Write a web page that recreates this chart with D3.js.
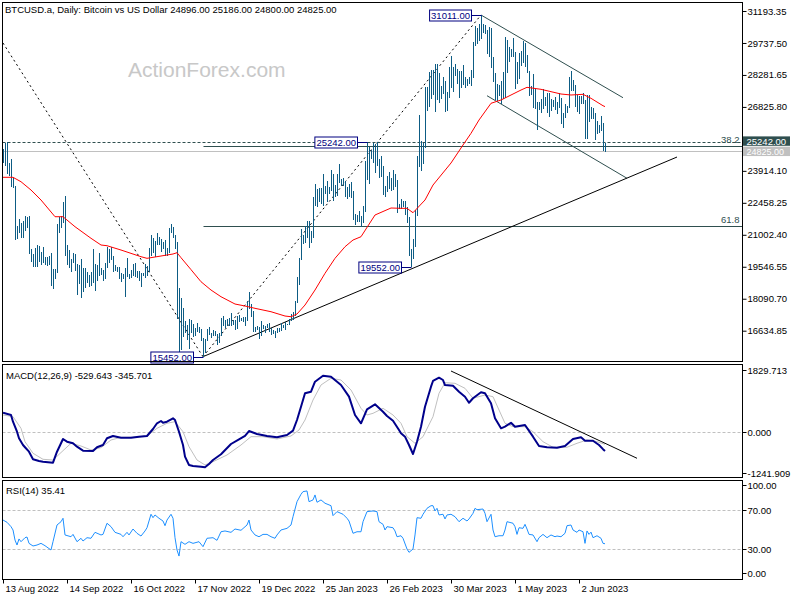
<!DOCTYPE html>
<html><head><meta charset="utf-8">
<script src="https://cdn.jsdelivr.net/npm/d3@7"></script>
<style>
body{margin:0;background:#fff}
svg{display:block}
text{font-family:"Liberation Sans",Arial,sans-serif}
</style>
</head><body><svg id="c" width="800" height="600"></svg>
<script>
// ---------- DATA ----------
const title = "BTCUSD.a, Daily:  Bitcoin vs US Dollar  24896.00 25186.00 24800.00 24825.00";
const macdTitle = "MACD(12,26,9) -529.643 -345.701";
const rsiTitle = "RSI(14) 35.41";

// daily highs / lows, bar 0 = 13 Aug 2022 ... bar 301 = 15 Jun 2023
const hi = [
24900,25200,25210,24250,24450,23600,23220,21380,21700,21530,
21650,21880,21800,21860,20340,20150,20400,20560,20480,20200,
20430,19980,20000,20040,20170,19450,19450,21500,21800,21850,
22480,22770,20520,20330,19890,20180,20120,19690,19620,19920,
19490,19480,19310,19180,19300,20360,19690,19630,20160,19470,
19390,19700,20460,20360,20430,20050,19610,19550,19520,19260,
19220,19500,19950,19220,19400,19670,19700,19350,19340,19250,
19260,19680,19600,20390,21000,20850,20720,21080,20920,20810,
20680,20770,20380,21300,21480,21370,20990,20660,18580,18130,
17650,17080,16900,17170,17110,16950,16740,16980,16800,16730,
16290,16250,16700,16800,16530,16680,16600,16470,16540,17200,
17310,17100,17150,17200,17420,17100,17140,17300,17360,17230,
17270,17240,18000,18390,17850,17530,16800,16860,16800,17060,
16910,16860,16950,16970,16780,16660,16640,16770,16780,17000,
16880,17020,16960,17170,17400,17490,17990,19100,19960,21260,
21000,21420,21640,21650,21170,22740,23300,23080,23150,23150,
23780,23230,23470,23160,23940,23790,23280,23780,24230,23560,
23570,23430,23160,23330,23400,22990,21950,21900,22090,21880,
22320,24380,25242,25020,24860,25180,25120,25240,24470,24600,
24130,23210,23680,23880,23600,23950,23780,23480,22420,22610,
22550,22530,22270,21800,20370,20800,22150,24600,26450,25260,
25200,27750,27720,28400,28500,28500,28800,28780,28370,27800,
28180,28020,27500,28640,29160,28650,28800,28530,28480,28440,
28740,28190,28100,28170,28500,29770,30500,30420,30600,31011,
30600,30550,30330,30470,30420,29100,28370,27880,27820,28000,
28400,30000,29880,29570,29450,29960,29330,28870,29270,29360,
29840,29720,29190,28470,27800,28330,27640,27050,27040,27170,
27650,27260,27480,27470,27170,27150,27270,27060,27480,27230,
26540,26940,26870,28200,28450,28050,27830,27350,27300,27330,
27440,27130,27350,27380,26800,26790,26530,26200,26000,26400,
26080,25186];
const lo = [
24300,24150,23800,23700,23200,23150,20800,20850,21100,20900,
20900,21200,21340,20150,19800,19550,19550,19550,19800,19650,
19760,19660,19620,19640,18700,18550,19000,19300,21100,21350,
21580,20070,19650,19500,19350,19750,19370,18270,18780,18140,
18400,18600,18850,18640,18680,18820,18480,18900,19170,19180,
18940,19000,19500,19760,19860,19330,19360,19330,19030,18870,
19000,18190,19100,18990,19060,19160,19100,19080,18900,18660,
19130,19070,19160,19310,20060,20210,20020,20580,20540,20230,
20360,20060,20060,20180,21100,20880,20400,17170,15590,15770,
16380,16550,16240,15820,16560,16380,16430,16620,16560,16190,
15452,15630,16170,16460,16330,16410,16420,16000,16120,16430,
16880,16800,16870,16880,16880,16910,16680,16740,17060,17090,
17070,16870,17080,17660,17280,16580,16590,16690,16300,16400,
16750,16560,16760,16590,16470,16490,16330,16550,16600,16660,
16760,16700,16910,16910,17100,17150,17310,17920,18720,19890,
20600,20630,20880,20440,20660,20890,22350,22300,22530,22440,
22330,22880,22540,22880,23000,22570,22730,22770,23400,23250,
23260,22760,22650,22740,22700,21700,21480,21600,21620,21360,
21550,22060,23540,23340,24480,24280,23860,24150,23600,23650,
22850,22750,22980,23100,23030,23060,23200,22000,22200,22200,
22300,21920,21580,20050,19552,19900,20450,21900,24120,23930,
24230,25000,26680,26860,27200,27400,26630,27160,27030,27200,
27450,26600,26680,27250,27720,27550,28250,27880,27270,27690,
27850,27730,27780,27880,27800,28170,29620,29720,29860,29960,
30230,30150,29270,29130,28630,28000,27150,27140,27340,26970,
27200,27250,28380,28900,29100,29100,27670,27880,28120,28700,
28830,28680,28400,27350,27380,26800,26750,25810,26700,26590,
26740,26880,26580,26410,26660,26850,26700,26540,26820,26090,
25870,26340,26560,26800,27570,27580,26850,26600,26510,26970,
26990,25400,25380,26140,26320,26320,25360,25630,25640,25730,
24850,24800];

// moving average [bar, value]
const maLine = [[0,23620],[5,23620],[9,23419],[14,23041],[19,22586],[26,21826],[30,21826],[36,21370],[44,20842],[49,20537],[52,20505],[59,20309],[69,20004],[72,19931],[79,20036],[85,20127],[87,20186],[89,19960],[94,19416],[99,18865],[104,18487],[109,18182],[116,17850],[121,17759],[126,17654],[134,17499],[141,17303],[144,17271],[147,17394],[151,17804],[156,18487],[161,19248],[166,19931],[171,20459],[175,20764],[179,20915],[186,21903],[194,22222],[199,22208],[202,22208],[205,22008],[211,22586],[215,23269],[224,24271],[230,25091],[234,25624],[238,26229],[244,26990],[249,27140],[259,27595],[262,27718],[269,27627],[279,27413],[284,27368],[290,27400],[294,27217],[300,26880],[301,26840]];

// MACD main line and signal line [bar, value]
const macdLine = [[0,517],[4,454],[5,271],[7,-3],[8,-183],[10,-366],[11,-429],[13,-550],[15,-758],[18,-804],[20,-823],[25,-851],[27,-550],[30,-202],[32,-276],[35,-320],[37,-413],[40,-522],[45,-531],[47,-429],[50,-366],[52,-183],[55,-120],[59,-167],[64,-167],[68,-139],[72,-120],[75,71],[77,227],[79,290],[80,243],[82,271],[85,364],[86,317],[88,-3],[90,-366],[91,-686],[93,-913],[95,-941],[99,-960],[101,-976],[103,-886],[105,-777],[109,-621],[114,-339],[118,-211],[121,-120],[123,16],[127,-66],[132,-120],[137,-156],[142,-93],[145,25],[147,317],[149,681],[151,1047],[154,1091],[156,1365],[160,1529],[164,1501],[169,1274],[173,955],[176,454],[179,227],[182,610],[186,747],[190,544],[192,427],[195,298],[198,44],[199,-46],[201,-139],[203,-366],[205,-613],[207,-276],[209,134],[211,681],[214,1228],[215,1384],[218,1474],[220,1411],[221,1274],[225,1255],[228,1091],[231,955],[233,790],[235,911],[239,1075],[241,1047],[244,774],[246,364],[249,90],[251,134],[254,243],[256,134],[261,181],[265,-139],[268,-394],[272,-429],[277,-440],[281,-394],[285,-202],[289,-156],[291,-249],[295,-249],[298,-366],[300,-480],[301,-530]];
const signalLine = [[0,454],[5,408],[9,90],[11,-276],[15,-593],[20,-758],[25,-777],[30,-522],[34,-320],[39,-394],[44,-503],[49,-440],[54,-230],[59,-156],[65,-156],[72,-120],[77,90],[82,227],[86,271],[90,-3],[93,-413],[97,-777],[101,-913],[105,-823],[112,-640],[119,-366],[124,-139],[130,-139],[137,-202],[144,-120],[148,44],[151,317],[155,864],[159,1275],[164,1458],[169,1411],[174,1138],[179,637],[182,454],[185,500],[190,637],[195,454],[199,227],[202,-139],[206,-320],[210,-139],[215,408],[218,1047],[221,1337],[226,1321],[231,1184],[235,911],[241,1001],[245,955],[248,591],[251,227],[255,134],[261,134],[265,-3],[270,-276],[275,-429],[282,-429],[287,-320],[292,-230],[297,-276],[300,-330],[301,-346]];

// RSI(14) [bar, value]
const rsiLine = [[0,59.7],[2,57.4],[4,52.9],[5,49.5],[6,39.2],[7,34.1],[8,40.3],[9,37.5],[11,41.6],[12,42.3],[13,35.8],[15,33.1],[17,34.1],[19,35.8],[21,33.4],[24,29],[25,37.5],[27,54.6],[29,58],[30,61.5],[31,44.4],[34,42.6],[35,45],[37,37.5],[39,41],[40,38.2],[42,41.6],[44,41],[46,47.1],[49,44.4],[50,45],[52,56.4],[54,52.9],[56,47.1],[59,45],[60,42.6],[62,47.1],[63,44.4],[65,50.5],[67,46.1],[69,43.3],[71,48.5],[72,51.8],[74,65.6],[75,62.1],[76,64.9],[78,61.5],[80,58.7],[81,53.9],[82,59.7],[84,65.6],[85,61.5],[86,41.6],[87,29],[88,22.8],[89,37.5],[91,34.8],[93,37.5],[95,35.8],[98,37.5],[100,32.4],[102,41],[105,41.6],[107,38.9],[109,47.7],[111,48.5],[114,47.1],[116,50.5],[119,49.2],[122,54.6],[123,59.7],[124,49.5],[126,44.4],[128,42.6],[130,45],[132,45],[134,42.6],[136,41],[137,44.4],[139,49.5],[142,51.2],[144,54.6],[145,63.1],[147,78.5],[149,86.1],[150,88.8],[152,89.5],[153,78.5],[155,80.3],[156,85.4],[157,77.9],[159,80.3],[161,76.9],[164,74.4],[165,64.2],[167,68.3],[170,65.6],[172,61.5],[173,58.7],[175,46.1],[177,47.7],[179,47.7],[180,58],[182,68.3],[185,69],[187,68.3],[188,58],[190,55.3],[191,49.5],[192,52.9],[195,51.8],[196,48.5],[197,42.6],[199,43.6],[200,41],[202,30],[203,26.6],[205,30],[206,44.4],[207,62.1],[209,61.5],[210,65.6],[212,71.7],[214,74.4],[215,74.4],[216,69],[217,71.7],[218,64.9],[220,65.6],[221,60.8],[222,64.9],[224,65.6],[226,63.1],[228,58],[230,61.5],[232,58.7],[233,60.8],[235,66.6],[236,71.7],[237,70.3],[240,71],[241,66.6],[242,58],[244,65.6],[245,49.5],[246,42.6],[248,43.6],[250,43.6],[251,49.5],[252,58],[255,56.4],[256,52.9],[257,45],[258,51.8],[260,51.2],[261,55.3],[262,50.5],[263,45],[265,44.4],[267,37.5],[268,41.6],[270,45],[272,41.6],[274,44.4],[276,42.6],[277,43.3],[279,42.6],[281,46.1],[282,53.9],[284,54.6],[285,49.5],[287,47.1],[288,49.5],[290,47.7],[291,35.8],[292,48.5],[293,45],[294,47.3],[295,41.6],[297,43.6],[299,41],[300,35.8],[301,35.41]];

// axes
const timeTickIdx = [0,32,64,96,128,160,192,224,256,288];
const timeTickLabels = ["13 Aug 2022","14 Sep 2022","16 Oct 2022","17 Nov 2022","19 Dec 2022","25 Jan 2023","26 Feb 2023","30 Mar 2023","1 May 2023","2 Jun 2023"];
const priceTicks = [31193.35,29737.50,28281.65,26825.80,23914.10,22458.25,21002.40,19546.55,18090.70,16634.85];
const macdTicks = [1829.713,0,-1241.909];
const rsiTicks = [100,70,30,0];
const rsiLevels = [70,30];

// annotations
const pivots = [{i:239,v:31011},{i:182,v:25242},{i:204,v:19552},{i:100,v:15452}];
const fibFrom = {i:100,v:15452}, fibTo = {i:239,v:31011};
const fibLevels = [38.2,61.8];
const hLineValue = 25242;
const lastPrice = 24825;
const dashedLines = [[[0,29736],[100,15452]],[[100,15452],[239,31011]]];
const channelLines = [[[239,31011],[310,27245]],[[242,27336],[312,23575]]];
const trendLine = [[100,15452],[337,24544]];
const macdTrend = [[224,1657],[317,-730]];

// ---------- DRAWING ----------
const svg = d3.select("#c");
const L = 2.5, R = 742.5;
const P = {main:[2.5,361.5], macd:[364.5,477.5], rsi:[480.5,579.5]};
const FS = 9.5;
const FONT = "Liberation Sans, Arial, sans-serif";

const x = d3.scaleLinear().domain([0,370]).range([3,743]);
const yP = d3.scaleLinear().domain([16634.85,31193.35]).range([330.7,11]);
const yM = d3.scaleLinear().domain([-1241.909,1829.713]).range([477,364.7]);
const yR = d3.scaleLinear().domain([0,100]).range([578.3,480.7]);
const px = i => Math.round(x(i)) + 0.5;

const defs = svg.append("defs");
Object.entries(P).forEach(([k,[t,b]]) => {
  defs.append("clipPath").attr("id","clip-"+k).append("rect")
    .attr("x",L+0.5).attr("y",t+0.5).attr("width",R-L-1).attr("height",b-t-1);
});

// watermark
svg.append("text").attr("x",128).attr("y",77).attr("font-size",21)
  .attr("fill","#c8c8c8").text("ActionForex.com");

const gMain = svg.append("g").attr("clip-path","url(#clip-main)");

// horizontal level lines
gMain.append("line").attr("x1",L).attr("x2",R)
  .attr("y1",Math.round(yP(hLineValue))+0.5).attr("y2",Math.round(yP(hLineValue))+0.5)
  .attr("stroke","#2f4f4f").attr("stroke-dasharray","3,2");
gMain.append("line").attr("x1",L).attr("x2",R)
  .attr("y1",Math.round(yP(lastPrice))+0.5).attr("y2",Math.round(yP(lastPrice))+0.5)
  .attr("stroke","#c0c0c0");
fibLevels.forEach(p => {
  const v = fibTo.v - (fibTo.v - fibFrom.v) * p / 100;
  const yy = Math.round(yP(v)) + 0.5;
  gMain.append("line").attr("x1",px(fibFrom.i)).attr("x2",R).attr("y1",yy).attr("y2",yy)
    .attr("stroke","#2f4f4f");
  gMain.append("text").attr("x",R-3).attr("y",yy-3.5).attr("text-anchor","end")
    .attr("font-size",FS).attr("fill","#2f4f4f").text(p.toFixed(1));
});

// dashed diagonals, channel, trend line
const segP = s => gMain.append("line")
  .attr("x1",x(s[0][0])).attr("y1",yP(s[0][1])).attr("x2",x(s[1][0])).attr("y2",yP(s[1][1]));
dashedLines.forEach(s => segP(s).attr("stroke","#000").attr("stroke-dasharray","2,3"));
channelLines.forEach(s => segP(s).attr("stroke","#2f4f4f"));
segP(trendLine).attr("stroke","#000");

// price bars
gMain.append("g").selectAll("line").data(hi).join("line")
  .attr("x1",(d,i)=>px(i)).attr("x2",(d,i)=>px(i))
  .attr("y1",d=>yP(d)).attr("y2",(d,i)=>yP(lo[i])+0.5)
  .attr("stroke","#0d5c84").attr("stroke-width",1).attr("shape-rendering","crispEdges");

// moving average
gMain.append("path").datum(maLine)
  .attr("d",d3.line().x(d=>x(d[0])).y(d=>yP(d[1])))
  .attr("fill","none").attr("stroke","#ff0000").attr("stroke-width",1);

// pivot labels
pivots.forEach(p => {
  const bx = px(p.i), by = Math.round(yP(p.v)) + 0.5;
  const g = svg.append("g");
  const r = g.append("rect");
  const t = g.append("text").attr("font-size",FS).attr("fill","#000080").text(p.v.toFixed(2));
  const w = t.node().getComputedTextLength() + 3;
  const right = bx - 10;
  r.attr("x",right-w).attr("y",by-5.5).attr("width",w).attr("height",11)
    .attr("fill","#fff").attr("stroke","#000080");
  t.attr("x",right-w/2).attr("y",by+3.4).attr("text-anchor","middle");
  g.append("line").attr("x1",right).attr("x2",bx).attr("y1",by).attr("y2",by).attr("stroke","#000080");
});

// MACD panel
const gM = svg.append("g").attr("clip-path","url(#clip-macd)");
gM.append("line").attr("x1",L).attr("x2",R).attr("y1",Math.round(yM(0))+0.5).attr("y2",Math.round(yM(0))+0.5)
  .attr("stroke","#c0c0c0").attr("stroke-dasharray","3,2");
gM.append("path").datum(signalLine).attr("d",d3.line().x(d=>x(d[0])).y(d=>yM(d[1])))
  .attr("fill","none").attr("stroke","#c0c0c0").attr("stroke-width",1);
gM.append("path").datum(macdLine).attr("d",d3.line().x(d=>x(d[0])).y(d=>yM(d[1])))
  .attr("fill","none").attr("stroke","#00008b").attr("stroke-width",2).attr("stroke-linejoin","round");
gM.append("line").attr("x1",x(macdTrend[0][0])).attr("y1",yM(macdTrend[0][1]))
  .attr("x2",x(macdTrend[1][0])).attr("y2",yM(macdTrend[1][1])).attr("stroke","#000");

// RSI panel
const gR = svg.append("g").attr("clip-path","url(#clip-rsi)");
rsiLevels.forEach(l => gR.append("line").attr("x1",L).attr("x2",R)
  .attr("y1",Math.round(yR(l))+0.5).attr("y2",Math.round(yR(l))+0.5)
  .attr("stroke","#c0c0c0").attr("stroke-dasharray","3,2"));
gR.append("path").datum(rsiLine).attr("d",d3.line().x(d=>x(d[0])).y(d=>yR(d[1])))
  .attr("fill","none").attr("stroke","#1e90ff").attr("stroke-width",1);

// panel borders
Object.values(P).forEach(([t,b]) => svg.append("rect").attr("x",L).attr("y",t)
  .attr("width",R-L).attr("height",b-t).attr("fill","none").attr("stroke","#000"));

// titles
svg.append("text").attr("x",5).attr("y",13.3).attr("font-size",FS).text(title);
svg.append("text").attr("x",6).attr("y",378.5).attr("font-size",FS).text(macdTitle);
svg.append("text").attr("x",6).attr("y",493.5).attr("font-size",FS).text(rsiTitle);

// right axes
const axR = svg.append("g").attr("font-size",FS);
function rightTick(yy, label){
  axR.append("line").attr("x1",R).attr("x2",R+4).attr("y1",yy).attr("y2",yy).attr("stroke","#000");
  axR.append("text").attr("x",R+5).attr("y",yy+3.4).text(label);
}
svg.append("g").attr("transform",`translate(${R},0)`)
  .call(d3.axisRight(yP).tickValues(priceTicks).tickFormat(d3.format(".2f")).tickSize(4).tickPadding(1))
  .call(g=>g.select(".domain").remove())
  .call(g=>g.selectAll("text").attr("font-size",FS).attr("font-family",FONT).attr("fill","#000"))
  .call(g=>g.selectAll("line").attr("stroke","#000"));
macdTicks.forEach((v,k) => {
  let yy = Math.round(yM(v)) + 0.5;
  if (k === 0) yy += 5; if (k === macdTicks.length-1) yy -= 4;
  rightTick(yy, v.toFixed(3));
});
rsiTicks.forEach((v,k) => {
  let yy = Math.round(yR(v)) + 0.5;
  if (k === 0) yy += 4; if (k === rsiTicks.length-1) yy -= 5;
  rightTick(yy, v.toFixed(2));
});

// price labels on the axis
[[hLineValue,"#2f4f4f",-0.3,9],[lastPrice,"#c0c0c0",0.8,8.5]].forEach(([v,c,dy,fs]) => {
  const yy = yP(v) + dy;
  svg.append("rect").attr("x",R+0.5).attr("y",yy-5).attr("width",47).attr("height",9.4).attr("fill",c);
  svg.append("text").attr("x",R+4).attr("y",yy+3.2).attr("font-size",fs+0.5).attr("fill","#fff").text(v.toFixed(2));
});

// time axis
svg.append("g").attr("transform",`translate(0,${P.rsi[1]})`)
  .call(d3.axisBottom(x).tickValues(timeTickIdx).tickFormat((d,k)=>timeTickLabels[k]).tickSize(4).tickPadding(2))
  .call(g=>g.select(".domain").remove())
  .call(g=>g.selectAll(".tick line").attr("stroke","#000"))
  .call(g=>g.selectAll("text").attr("font-size",FS).attr("font-family",FONT)
    .attr("fill","#000").attr("text-anchor","start").attr("dx","0.2em"));
</script>
</body></html>
